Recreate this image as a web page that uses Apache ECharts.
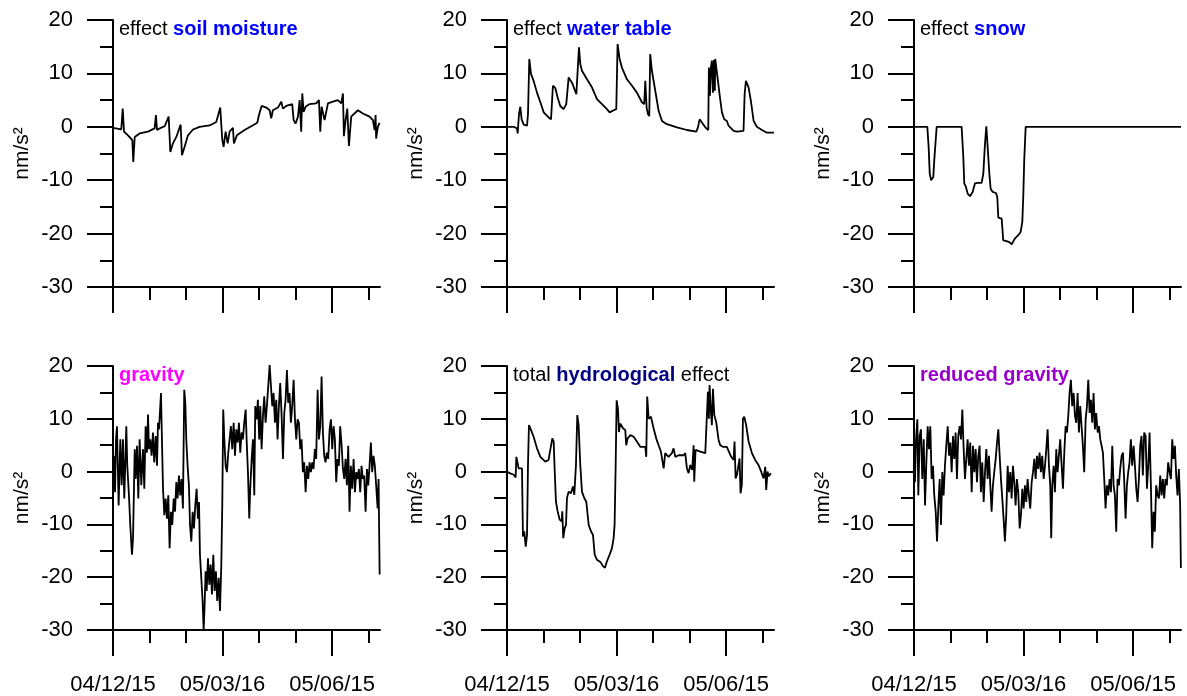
<!DOCTYPE html>
<html><head><meta charset="utf-8">
<script src="https://cdn.jsdelivr.net/npm/echarts@6/dist/echarts.min.js"></script>
<style>html,body{margin:0;padding:0;background:#fff}#c{width:1187px;height:696px}</style>
</head><body><div id="c"></div>
<script>
// x values: days since 2004-12-15
const xMajorTicks = [0, 91.3125, 182.625];
const xMajorLabels = ['04/12/15', '05/03/16', '05/06/15'];
const xMinorTicks = [30.4375, 60.875, 121.75, 152.1875, 213.0625];
const xMax = 222.6;
const yMin = -30, yMax = 20, yStep = 10;
const yName = 'nm/s²';

const soilMoisture = [[0,-0.2],[6.9,-0.5],[8.1,3.4],[9.2,-0.9],[12.5,-1.6],[16.1,-2.5],[16.9,-6.6],[18.1,-1.9],[22.2,-1.25],[29.2,-0.9],[34.7,-0.3],[35.8,2.2],[36.7,-0.6],[38.9,-0.3],[43.1,0.1],[46.4,1.9],[47.8,-4.7],[50,-3.1],[52.8,-1.9],[56.4,0.4],[57.5,-5.3],[59.7,-3.75],[62.5,-1.6],[66.7,-0.5],[72.2,0],[80.6,0.25],[86.1,0.9],[89.4,3.6],[91.1,-2.4],[92.2,-3.75],[93.9,-0.9],[95.6,-3.1],[97.2,-0.9],[100,-0.2],[100.8,-3.1],[103.3,-1.6],[109.7,-0.6],[116.7,0.3],[120.3,0.75],[121.7,2.2],[123.9,3.9],[127.8,3.6],[130.6,3.1],[131.9,1.6],[133.3,3.1],[137.5,3.6],[140.3,4.7],[141.7,3.4],[144.4,3.9],[149.4,4.25],[150.6,1.25],[152.2,0.6],[154.2,1.9],[155.6,5],[156.9,-0.9],[157.8,6.25],[158.9,2.8],[160.6,3.75],[163.9,4.25],[169.4,4.4],[171.7,5],[172.8,-0.9],[173.9,3.75],[176.4,1.25],[179.2,4.4],[183.3,4.7],[187.5,5],[190.3,4.4],[191.7,6.25],[192.5,-1.75],[193.9,1.25],[195.3,3.4],[196.7,-3.6],[198.6,1.9],[200,2.2],[204.2,3.1],[208.3,2.5],[213.9,1.9],[216.7,1.25],[218.1,-0.6],[218.9,2.2],[219.4,-2.2],[220.8,0],[222.2,0.75]];

const waterTable = [[0,0],[5.6,0],[8.3,-0.3],[8.9,-1.25],[10,2.4],[11.1,3.75],[12.2,1.4],[13.9,0.4],[16.7,0.2],[17.5,2.4],[18.6,12.7],[20,9.9],[22.2,8.6],[25,6.4],[27.8,4.6],[30.6,2.7],[34.7,1.75],[36.7,1.4],[38.3,7.7],[40.3,7.25],[42.2,5.5],[44.4,3.9],[47.2,3.3],[49.4,4.25],[51.4,9.25],[52.8,9.4],[54.7,8],[57.8,6.1],[58.9,6.4],[60,14.9],[61.1,11.75],[62.5,10.5],[66.7,8.9],[70.8,7.4],[75,5.2],[79.2,4.25],[83.3,3.3],[85.6,2.7],[88.9,3.1],[91.1,3.3],[92.2,15.5],[93.9,12.7],[95.8,11.1],[100,8.9],[104.2,7.7],[108.3,6.4],[112.5,4.6],[114.4,4.25],[115.3,8.6],[116.4,3.6],[117.5,2.4],[118.6,2],[119.4,13.6],[120.8,10.5],[123.6,6.75],[126.4,3],[129.2,1.1],[133.3,0.5],[141.7,-0.1],[150,-0.6],[157.8,-0.9],[159.2,-0.1],[160.6,1.4],[162.5,0.8],[165.3,-0.1],[167.8,-0.6],[168.3,11.1],[169.2,5.8],[170,11.1],[170.8,12.4],[171.7,6.4],[172.5,12.5],[173.3,6.75],[173.6,12.7],[175,10.2],[177.2,6.1],[179.2,2.7],[181.1,1.4],[183.3,1.1],[184.7,0.2],[188.9,-0.75],[191.7,-0.9],[197.2,-0.75],[198.1,6.1],[199.2,8.6],[201.4,7.4],[203.3,4.9],[205.6,1.1],[208.3,0],[212.5,-0.6],[216.7,-1.1],[222.6,-1.1]];

const snow = [[0,0],[11.1,0],[12.2,-3.75],[13.1,-8.75],[14.2,-10],[16.1,-9.4],[16.9,-6.25],[18.9,0],[39.7,0],[41.1,-5.6],[41.9,-10.6],[43.3,-11.25],[44.7,-12.5],[46.7,-13],[48.9,-12.2],[50.8,-10.6],[52.8,-10.5],[56.4,-10.5],[57.8,-8.75],[59.2,-3.1],[60.3,0.1],[61.4,-3.75],[62.8,-8.75],[63.9,-11.6],[65.6,-12.2],[68.3,-12.4],[69.4,-13.1],[70.3,-17],[73.1,-17.2],[74.4,-21.25],[77.2,-21.4],[79.4,-21.6],[81.4,-22],[82.8,-21.75],[84.2,-20.9],[86.9,-20.3],[88.9,-19.7],[90.3,-17.8],[91.1,-13.1],[91.9,-6.25],[93.1,0],[222.6,0]];

const gravity = [[0,-0.1],[0.8,3],[1.7,-3.9],[2.5,6.1],[3.3,8.6],[4.7,-6.4],[6.1,6.1],[7.2,-2.6],[8.3,6.1],[9.4,-5.1],[11.1,8.6],[11.9,1.1],[13.3,-4.5],[14.4,-10.1],[15.8,-15.75],[16.7,-12.6],[18.1,4.25],[18.9,-1.4],[20,4.9],[21.1,-5.1],[22.2,6.1],[23.6,-2.6],[25,4.25],[26.1,-3.25],[27.2,8.6],[28.3,3.6],[29.2,10.8],[30,4.25],[31.1,6.1],[32.2,3],[33.3,7.4],[34.4,1.75],[35.6,6.75],[36.7,1.1],[37.5,9.25],[38.3,8],[39.2,11.4],[40,14.9],[40.8,6.1],[41.7,-3.25],[42.8,-8.25],[43.9,-5.1],[45,-8.9],[46.1,-4.5],[47.2,-14.5],[48.3,-7.6],[49.4,-10.1],[50.6,-5.1],[51.7,-7.6],[52.8,-2],[53.9,-5.1],[55,-0.75],[56.1,-4.5],[57.2,-1.4],[58.3,-7],[59.4,15.5],[60.3,13],[61.1,6.1],[62.2,1.1],[63.3,-2.6],[64.2,-10.1],[65.3,-13.25],[66.4,-7.6],[67.5,-10.75],[68.6,-6.4],[69.7,-3.25],[70.8,-8.9],[71.7,-5.75],[72.5,-15.75],[73.6,-20.1],[74.7,-24.5],[75.6,-30.1],[76.4,-25.1],[77.2,-18.9],[78.1,-22.6],[79.2,-16.4],[80.3,-21.4],[81.4,-17.6],[82.5,-23.25],[83.6,-15.75],[84.7,-22.6],[85.8,-18.9],[86.9,-24.5],[88.1,-20.1],[89.2,-26.4],[90.3,-17.6],[91.1,-6.4],[91.9,11.75],[92.8,6.1],[93.9,1.1],[95,-0.1],[96.1,3.6],[97.2,6.1],[98.3,8.6],[99.4,4.25],[100.6,9.25],[101.7,3],[102.8,8],[103.9,5.5],[105,9.25],[106.1,3.6],[107.2,7.4],[108.3,6.1],[109.4,9.25],[110.6,11.75],[111.4,6.1],[112.5,-0.1],[113.6,-8.9],[114.4,-3.25],[115.6,2.4],[116.7,6.1],[117.8,-4.5],[118.6,12.4],[119.7,9.9],[120.8,13.6],[121.9,6.1],[122.8,12.4],[123.9,4.25],[125,10.5],[126.1,14.25],[127.2,9.25],[128.3,12.4],[129.4,16.1],[130.6,20.2],[131.7,16.1],[132.8,12.4],[133.9,14.9],[135,9.25],[136.1,13.6],[137.2,6.1],[138.3,12.4],[139.4,16.75],[140.6,10.5],[141.7,2.4],[142.8,11.1],[143.9,13.6],[145,19.25],[146.1,13],[147.2,14.9],[148.3,9.25],[149.4,12.4],[150.6,17.4],[151.7,9.9],[152.8,6.1],[153.9,9.9],[155,9.25],[156.1,4.25],[157.2,6.1],[158.3,-0.1],[159.4,1.75],[160.6,-3.9],[161.7,1.1],[162.8,-1.4],[163.9,1.75],[165,-0.1],[166.1,1.75],[167.2,0.5],[168.3,4.25],[169.4,2.4],[170.6,15.5],[171.7,6.1],[172.8,8.6],[173.9,18],[175,7.4],[176.1,3],[177.2,1.75],[178.3,3.6],[179.4,2.4],[180.6,8],[181.7,9.9],[182.8,4.25],[183.9,8.6],[185,6.1],[186.1,-2],[187.2,2.4],[188.3,1.1],[189.4,8.6],[190.6,4.9],[191.7,0.5],[192.8,-1.4],[193.9,2.4],[195,-2.6],[196.1,4.9],[197.2,-7.6],[198.3,1.1],[199.4,-3.25],[200.6,2.4],[201.7,-3.9],[202.8,-0.1],[203.9,-1.4],[205,0.5],[206.1,-3.9],[207.2,1.1],[208.3,-1.4],[209.4,-0.75],[210.6,-7.6],[211.7,0.5],[212.8,-2.6],[213.9,1.1],[215,5.5],[216.1,-0.1],[217.2,3],[218.3,1.1],[219.4,-2.6],[220.6,-7],[221.4,-1.4],[222.3,-19.5]];

const totalHydro = [[0,0],[2.2,-0.3],[5.6,-0.6],[7.2,-1.1],[7.8,2.8],[8.9,2.5],[9.7,0.6],[11.1,0.5],[12.5,0.6],[13.3,-12.3],[14.4,-11.3],[15.6,-14.2],[16.7,-12],[17.5,1.25],[18.3,8.8],[20,7.9],[22.2,6.6],[25,4.4],[27.8,2.8],[31.9,1.9],[34.7,2.2],[35.6,3.5],[36.7,3.8],[37.8,6.3],[38.9,5.7],[39.7,0.6],[40.8,-5.7],[42.2,-7.5],[43.9,-9.1],[45.6,-9.4],[46.1,-7.5],[46.9,-12.6],[48.1,-10.7],[49.2,-10.1],[50,-5],[51.4,-3.8],[53.3,-4.1],[55,-2.8],[56.1,-4.4],[57.5,1.25],[58.6,10.7],[59.7,8.8],[61.1,1.25],[62.5,-3.8],[64.4,-5],[66.1,-5.7],[68.1,-10.1],[70,-11.3],[71.7,-12],[73.1,-15.7],[75,-16.7],[77.8,-17.1],[80,-17.9],[81.7,-18.2],[83.3,-17],[85.6,-15.7],[87.5,-14.5],[88.9,-12.6],[89.7,-10.1],[90.6,1.25],[91.4,13.5],[92.5,11.9],[93.3,7.5],[94.4,9.1],[96.7,8.2],[98.6,7.9],[99.4,5],[100.6,6.3],[102.8,6.9],[105.6,6.6],[108.3,5.7],[111.1,4.7],[115.3,4.7],[116.1,2.8],[116.9,14.2],[118.1,10],[120,10.4],[122.2,8.2],[124.4,6.3],[126.4,5],[128.3,3.8],[129.7,3.5],[130.6,0.6],[131.9,3.5],[134.7,2.8],[137.5,3.5],[138.9,4.4],[140.3,2.8],[143.1,3.1],[147.2,3.1],[148.6,3.5],[150,0.6],[151.4,-0.3],[152.8,1.25],[154.4,0.3],[155.6,5],[156.1,-1.9],[157.2,4.1],[158.3,4.4],[161.1,3.8],[165.3,3.5],[166.7,3.8],[167.5,15.1],[168.3,10],[168.9,16.4],[170,11.3],[170.8,8.8],[171.7,15.7],[172.8,10.7],[174.4,9.4],[176.4,6],[177.8,5],[180,4.7],[183.3,4.7],[184.7,4.4],[186.9,2.8],[188.9,2.2],[189.7,5.7],[190.6,-1.3],[191.7,-0.6],[193.1,-0.9],[193.9,2.5],[194.7,-4.1],[195.8,-2.5],[196.7,10],[197.8,10.4],[199.4,8.8],[201.4,5.7],[204.2,3.5],[206.9,2.2],[209.7,1.25],[211.9,0],[213.9,-1.3],[215.3,0.9],[216.1,-3.5],[217.2,0],[218.3,-0.9],[220,-0.3]];

const reducedGravity = [[0,4.25],[0.8,-2],[1.7,6.1],[2.8,9.9],[3.6,-4.5],[4.7,6.75],[5.8,8],[6.9,-1.4],[8.1,6.1],[9.2,-6.4],[10.3,1.75],[11.4,8.6],[12.5,4.25],[13.6,8.6],[14.7,-1.4],[15.8,1.1],[16.9,-4.5],[18.1,-7.6],[19.2,-13.25],[20.3,-6.4],[21.4,-1.4],[22.5,-10.1],[23.6,-0.1],[24.7,-4.5],[25.8,1.1],[26.9,4.9],[28.1,8.6],[29.2,3],[30.3,5.5],[31.4,-0.1],[32.5,6.75],[33.6,2.4],[34.7,7.4],[35.8,-1.4],[36.9,6.75],[38.1,8.6],[39.2,6.1],[40.3,11.75],[41.4,4.25],[42.5,-1.4],[43.6,2.4],[44.7,6.1],[45.8,1.1],[46.9,5.5],[48.1,-3.9],[49.2,4.9],[50.3,-0.1],[51.4,4.25],[52.5,-2],[53.6,3],[54.7,4.9],[55.8,-3.9],[56.9,1.75],[58.1,-5.75],[59.2,-0.1],[60.3,4.25],[61.4,-1.4],[62.5,3],[63.6,-2.6],[64.7,-7.6],[65.8,-2.6],[66.9,-0.1],[68.1,2.4],[69.2,5.5],[70.3,8],[71.4,3],[72.5,-1.4],[73.6,-5.1],[74.7,-8.9],[75.8,-13.25],[76.9,-8.25],[78.1,1.1],[79.2,-3.9],[80.3,-0.1],[81.4,-5.1],[82.5,1.1],[83.6,-2],[84.7,-6.4],[85.8,-1.4],[86.9,-3.9],[88.1,-10.75],[89.2,-8.25],[90.3,-3.25],[91.4,-7],[92.5,-2.6],[93.6,-5.75],[94.7,-1.4],[95.8,-4.5],[96.9,-7],[98.1,-2],[99.2,-0.1],[100.3,2.4],[101.4,-1.4],[102.5,3],[103.6,0.5],[104.7,3.6],[105.8,-0.1],[106.9,3],[108.1,-1.4],[109.2,1.1],[110.3,4.25],[111.4,8],[112.5,1.1],[113.6,-2.6],[114.4,-12.6],[115.3,-2.6],[116.4,1.1],[117.5,-3.9],[118.6,4.25],[119.7,-0.1],[120.8,3],[121.9,6.1],[123.1,1.1],[124.2,-3.25],[125.3,3.6],[126.4,8.6],[127.5,7.4],[128.6,10.5],[129.7,14.9],[130.8,17.4],[131.9,12.4],[133.1,14.9],[134.2,10.5],[135.3,9.25],[136.4,14.9],[137.5,7.4],[138.6,12.4],[139.7,8.6],[140.8,4.9],[141.9,-0.1],[143.1,9.9],[144.2,12.4],[145.3,17.4],[146.4,11.1],[147.5,13.6],[148.6,9.25],[149.7,14.9],[150.8,8],[151.9,11.1],[153.1,7.4],[154.2,8.6],[155.3,6.1],[156.4,4.9],[157.5,3.6],[158.6,-1.4],[159.7,-7],[160.8,-2.6],[161.9,-4.5],[163.1,-1.4],[164.2,-3.9],[165.3,4.9],[166.4,-2.6],[167.5,-4.5],[168.6,-11.4],[169.7,-1.4],[170.8,-2.6],[171.9,0.5],[173.1,3],[174.2,3.6],[175.3,-2],[176.4,-8.9],[177.5,-2.6],[178.6,-0.1],[179.7,1.75],[180.8,6.1],[181.9,1.1],[183.1,4.9],[184.2,1.1],[185.3,-3.25],[186.4,-5.75],[187.5,-1.4],[188.6,4.9],[189.7,6.75],[190.8,-0.75],[191.9,7.4],[193.1,6.75],[194.2,-3.25],[195.3,1.1],[196.4,7.4],[197.5,-2.6],[198.6,-14.5],[199.7,-7.6],[200.8,-11.4],[201.9,-2.6],[203.1,-4.5],[204.2,-5.1],[205.3,-0.75],[206.4,-4.5],[207.5,-1.4],[208.6,-5.1],[209.7,-1.4],[210.8,-2.6],[211.9,1.75],[213.1,-0.1],[214.2,-1.4],[215.3,6.1],[216.4,2.4],[217.5,4.9],[218.6,-0.75],[219.7,-4.5],[220.8,0.5],[221.9,-6.4],[222.5,-18.25]];

const FONT = '"Liberation Sans", Arial, sans-serif';
const panels = [
  {left: 113, top: 20, data: soilMoisture, labels: false,
   title: '{k|effect }{b|soil moisture}'},
  {left: 507, top: 20, data: waterTable, labels: false,
   title: '{k|effect }{b|water table}'},
  {left: 914, top: 20, data: snow, labels: false,
   title: '{k|effect }{b|snow}'},
  {left: 113, top: 366, data: gravity, labels: true,
   title: '{m|gravity}'},
  {left: 507, top: 366, data: totalHydro, labels: true,
   title: '{k|total }{n|hydrological}{k| effect}'},
  {left: 914, top: 366, data: reducedGravity, labels: true,
   title: '{p|reduced gravity}'}
];
const W = 267, H = 267;
const axisColor = '#000';
const rich = {
  k: {fontSize: 20, fontFamily: FONT, color: '#000', fontWeight: 'normal'},
  b: {fontSize: 20, fontFamily: FONT, color: '#0000ff', fontWeight: 'bold'},
  n: {fontSize: 20, fontFamily: FONT, color: '#000080', fontWeight: 'bold'},
  m: {fontSize: 20, fontFamily: FONT, color: '#ff00ff', fontWeight: 'bold'},
  p: {fontSize: 20, fontFamily: FONT, color: '#9900cc', fontWeight: 'bold'}
};

const grid = [], xAxis = [], yAxis = [], series = [], title = [];
panels.forEach((p, i) => {
  grid.push({left: p.left, top: p.top, width: W, height: H});
  xAxis.push({
    type: 'value', gridIndex: i, min: 0, max: xMax, position: 'bottom',
    axisLine: {show: true, onZero: false, lineStyle: {color: axisColor, width: 2}},
    axisTick: {show: true, length: 26, inside: false, customValues: xMajorTicks,
      lineStyle: {color: axisColor, width: 2}},
    axisLabel: {show: p.labels, customValues: xMajorTicks, margin: 44,
      fontSize: 22, fontFamily: FONT, color: '#000',
      formatter: v => {
        let best = 0;
        xMajorTicks.forEach((t, j) => { if (Math.abs(t - v) < Math.abs(xMajorTicks[best] - v)) best = j; });
        return xMajorLabels[best];
      }},
    splitLine: {show: false}
  });
  xAxis.push({
    type: 'value', gridIndex: i, min: 0, max: xMax, position: 'bottom',
    axisLine: {show: false, onZero: false},
    axisTick: {show: true, length: 13, inside: false, customValues: xMinorTicks,
      lineStyle: {color: axisColor, width: 2}},
    axisLabel: {show: false},
    splitLine: {show: false}
  });
  yAxis.push({
    type: 'value', gridIndex: i, min: yMin, max: yMax, interval: yStep,
    name: yName, nameLocation: 'middle', nameGap: 80,
    nameTextStyle: {fontSize: 21, fontFamily: FONT, color: '#000'},
    axisLine: {show: true, onZero: false, lineStyle: {color: axisColor, width: 2}},
    axisTick: {show: true, length: 26, inside: false, lineStyle: {color: axisColor, width: 2}},
    minorTick: {show: true, splitNumber: 2, length: 13, lineStyle: {color: axisColor, width: 2}},
    axisLabel: {margin: 40, fontSize: 22, fontFamily: FONT, color: '#000'},
    splitLine: {show: false}, minorSplitLine: {show: false}
  });
  series.push({
    type: 'line', xAxisIndex: 2 * i, yAxisIndex: i, data: p.data,
    showSymbol: false, symbol: 'none', clip: true,
    lineStyle: {color: '#000', width: 1.8}, z: 2
  });
  title.push({
    text: p.title, left: p.left + 6, top: p.top - 1, padding: 0,
    textStyle: {rich: rich}, z: 5
  });
});

const chart = echarts.init(document.getElementById('c'), null, {renderer: 'canvas'});
chart.setOption({
  animation: false, backgroundColor: '#fff',
  title: title, grid: grid, xAxis: xAxis, yAxis: yAxis, series: series
});
</script></body></html>
